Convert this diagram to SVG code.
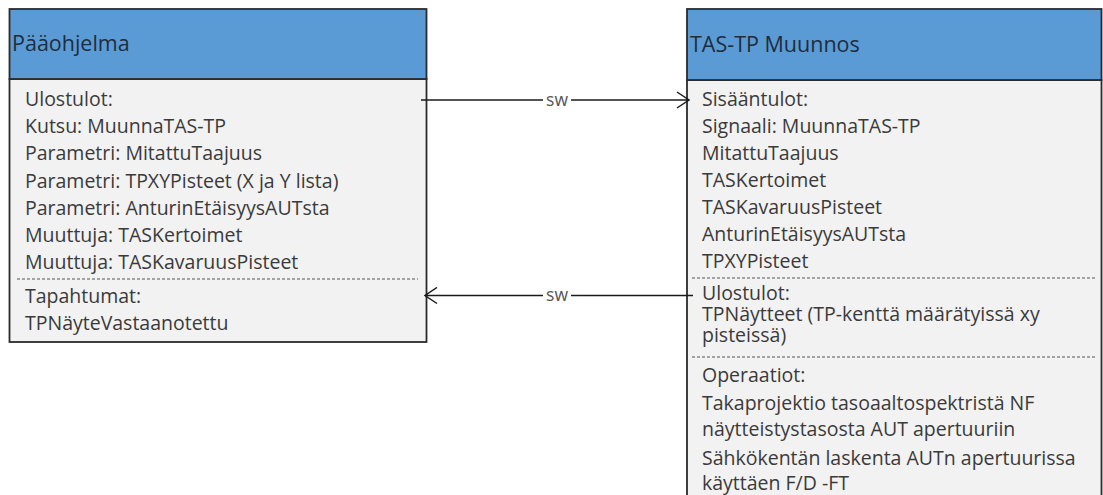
<svg xmlns="http://www.w3.org/2000/svg" width="1103" height="495" viewBox="0 0 1103 495">
  <defs>
    <style>
      .hdr { fill: #5b9bd5; stroke: #2b2b2b; stroke-width: 1.8; }
      .body { fill: #f2f2f2; stroke: #2b2b2b; stroke-width: 1.8; }
      .title { font-family: "Open Sans", "Noto Sans", sans-serif; font-size: 21.5px; fill: #1f2d3d; }
      .txt { font-family: "Open Sans", "Noto Sans", sans-serif; font-size: 19.5px; fill: #3a3a3a; }
      .sep { stroke: #555; stroke-width: 1; stroke-dasharray: 3 2; fill: none; }
      .conn { stroke: #1a1a1a; stroke-width: 1.5; fill: none; }
      .lbl { font-family: "Open Sans", "Noto Sans", sans-serif; font-size: 17.5px; fill: #555; text-anchor: middle; }
    </style>
    <marker id="open-arrow" viewBox="0 0 14 18" refX="13" refY="9" markerWidth="14" markerHeight="18" markerUnits="userSpaceOnUse" orient="auto">
      <path d="M1,1 L13,9 L1,17" fill="none" stroke="#1a1a1a" stroke-width="1.5"/>
    </marker>
  </defs>

  <!-- Main program class box -->
  <g id="paaohjelma">
    <rect class="body" x="9.5" y="79" width="417" height="263"/>
    <rect class="hdr" x="9.5" y="9" width="417" height="70"/>
    <text class="title" x="12" y="51">Pääohjelma</text>
    <text class="txt" x="25" y="106">Ulostulot:</text>
    <text class="txt" x="25" y="133">Kutsu: MuunnaTAS-TP</text>
    <text class="txt" x="25" y="160">Parametri: MitattuTaajuus</text>
    <text class="txt" x="25" y="187.5">Parametri: TPXYPisteet (X ja Y lista)</text>
    <text class="txt" x="25" y="215">Parametri: AnturinEtäisyysAUTsta</text>
    <text class="txt" x="25" y="242">Muuttuja: TASKertoimet</text>
    <text class="txt" x="25" y="269">Muuttuja: TASKavaruusPisteet</text>
    <line class="sep" x1="17" y1="279" x2="418" y2="279"/>
    <text class="txt" x="25" y="303">Tapahtumat:</text>
    <text class="txt" x="25" y="330">TPNäyteVastaanotettu</text>
  </g>

  <!-- Conversion class box, continues below the visible area -->
  <g id="tas-tp-muunnos">
    <rect class="body" x="687" y="80" width="414.5" height="430"/>
    <rect class="hdr" x="687" y="9" width="414.5" height="71"/>
    <text class="title" x="690" y="52">TAS-TP Muunnos</text>
    <text class="txt" x="702" y="106">Sisääntulot:</text>
    <text class="txt" x="702" y="133">Signaali: MuunnaTAS-TP</text>
    <text class="txt" x="702" y="160">MitattuTaajuus</text>
    <text class="txt" x="702" y="187">TASKertoimet</text>
    <text class="txt" x="702" y="214">TASKavaruusPisteet</text>
    <text class="txt" x="702" y="241">AnturinEtäisyysAUTsta</text>
    <text class="txt" x="702" y="268">TPXYPisteet</text>
    <line class="sep" x1="692" y1="278" x2="1095" y2="278"/>
    <text class="txt" x="702" y="300">Ulostulot:</text>
    <text class="txt" x="702" y="320.5">TPNäytteet (TP-kenttä määrätyissä xy</text>
    <text class="txt" x="702" y="342">pisteissä)</text>
    <line class="sep" x1="692" y1="357" x2="1095" y2="357"/>
    <text class="txt" x="702" y="382">Operaatiot:</text>
    <text class="txt" x="702" y="410">Takaprojektio tasoaaltospektristä NF</text>
    <text class="txt" x="702" y="436">näytteistystasosta AUT apertuuriin</text>
    <text class="txt" x="702" y="465">Sähkökentän laskenta AUTn apertuurissa</text>
    <text class="txt" x="702" y="490">käyttäen F/D -FT</text>
  </g>

  <!-- Signal connectors -->
  <g id="connectors">
    <line class="conn" x1="421" y1="100" x2="689" y2="100" marker-end="url(#open-arrow)"/>
    <rect x="543" y="91" width="28" height="18" fill="#ffffff"/>
    <text class="lbl" x="557" y="105.5">sw</text>
    <line class="conn" x1="693" y1="295.5" x2="425" y2="295.5" marker-end="url(#open-arrow)"/>
    <rect x="543" y="287" width="28" height="18" fill="#ffffff"/>
    <text class="lbl" x="557" y="301">sw</text>
  </g>
</svg>
